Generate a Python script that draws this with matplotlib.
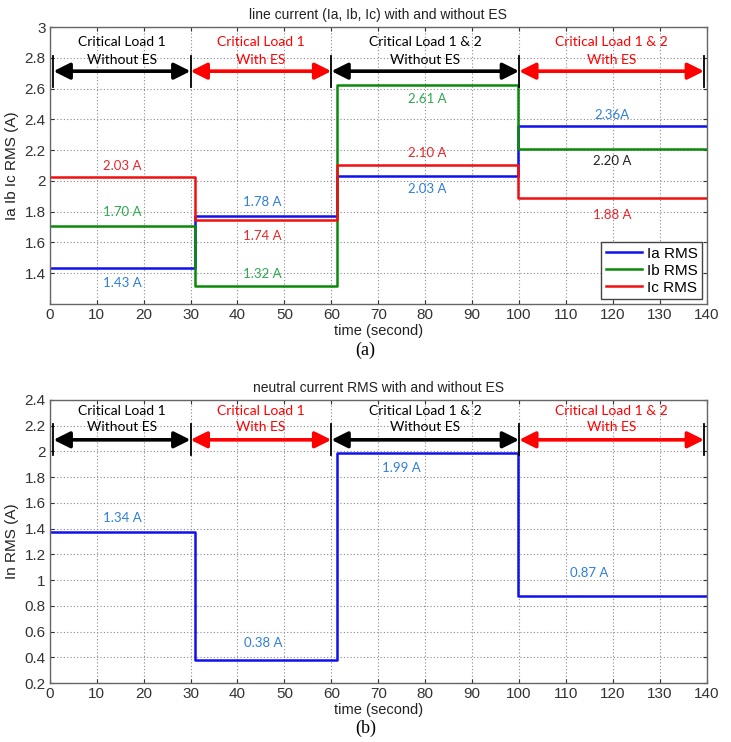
import matplotlib
matplotlib.use('Agg')
import matplotlib.pyplot as plt

# step change instants (s)
t_steps = [0, 31, 61.3, 99.8, 140]

# RMS levels in each of the four periods
ia_rms = [1.435, 1.775, 2.035, 2.355]
ib_rms = [1.71, 1.32, 2.62, 2.205]
ic_rms = [2.025, 1.745, 2.105, 1.89]
in_rms = [1.375, 0.378, 1.985, 0.878]

# period headers
seg_bounds = [0.8, 30, 60, 100, 139.4]
seg_line1 = ['Critical Load 1', 'Critical Load 1', 'Critical Load 1 & 2', 'Critical Load 1 & 2']
seg_line2 = ['Without ES', 'With ES', 'Without ES', 'With ES']
seg_colors = ['black', 'red', 'black', 'red']

# value labels
BLUE_T, GREEN_T, RED_T, BLACK_T = '#2f7fd6', '#2ea84e', '#e8262b', '#222222'
top_lbl_x = [15.4, 15.4, 15.4, 45.2, 45.2, 45.2, 80.4, 80.4, 80.4, 119.8, 119.8, 119.8]
top_lbl_y = [2.095, 1.80, 1.335, 1.86, 1.64, 1.395, 2.535, 2.18, 1.95, 2.425, 2.13, 1.78]
top_lbl_txt = ['2.03 A', '1.70 A', '1.43 A', '1.78 A', '1.74 A', '1.32 A',
               '2.61 A', '2.10 A', '2.03 A', '2.36A', '2.20 A', '1.88 A']
top_lbl_col = [RED_T, GREEN_T, BLUE_T, BLUE_T, RED_T, GREEN_T,
               GREEN_T, RED_T, BLUE_T, BLUE_T, BLACK_T, RED_T]

bot_lbl_x = [15.4, 45.5, 75, 115]
bot_lbl_y = [1.48, 0.51, 1.87, 1.055]
bot_lbl_txt = ['1.34 A', '0.38 A', '1.99 A', '0.87 A']

TICK_FONT = ['Liberation Sans', 'DejaVu Sans']
NOTE_FONT = ['Lato', 'DejaVu Sans']


def steps(levels):
    return levels + [levels[-1]]


def style_axes(ax, ylim, yticks):
    ax.set_xlim(0, 140)
    ax.set_ylim(*ylim)
    ax.set_xticks(range(0, 141, 10))
    ax.set_yticks(yticks)
    ax.set_yticklabels([('%g' % v) for v in yticks])
    ax.grid(True, color='#8a8a8a', linestyle=(0, (1, 2)), linewidth=0.8)
    ax.tick_params(direction='in', length=3, top=True, right=True,
                   labelsize=11, colors='#333333', pad=3)
    for lbl in ax.get_xticklabels() + ax.get_yticklabels():
        lbl.set_family(TICK_FONT)
    for s in ax.spines.values():
        s.set_color('#666666')
        s.set_linewidth(1.0)
    ax.set_xlabel('time (second)', fontsize=10.5, family=TICK_FONT, color='#222222', labelpad=1)


def draw_headers(ax, y_arrow, y_t1, y_t2, bar_half):
    for i in range(4):
        x0, x1 = seg_bounds[i], seg_bounds[i + 1]
        ax.annotate('', xy=(x1, y_arrow), xytext=(x0, y_arrow),
                    arrowprops=dict(arrowstyle='<|-|>,head_length=0.7,head_width=0.35',
                                    color=seg_colors[i], lw=2.6,
                                    shrinkA=0, shrinkB=0, mutation_scale=14))
        xm = (x0 + x1) / 2
        ax.text(xm, y_t1, seg_line1[i], color=seg_colors[i], ha='center', va='center',
                fontsize=10, family=NOTE_FONT)
        ax.text(xm, y_t2, seg_line2[i], color=seg_colors[i], ha='center', va='center',
                fontsize=10, family=NOTE_FONT)
    for xb in seg_bounds:
        ax.plot([xb, xb], [y_arrow - bar_half, y_arrow + bar_half], color='black', lw=1.3)


fig = plt.figure(figsize=(7.31, 7.42), dpi=100)

# (a) line currents
ax1 = fig.add_axes([0.068, 0.5903, 0.899, 0.3733])
ax1.plot(t_steps, steps(ia_rms), drawstyle='steps-post', color='#1010ee', lw=1.8, label='Ia RMS')
ax1.plot(t_steps, steps(ib_rms), drawstyle='steps-post', color='#0a8a0a', lw=1.8, label='Ib RMS')
ax1.plot(t_steps, steps(ic_rms), drawstyle='steps-post', color='#f01010', lw=1.8, label='Ic RMS')
style_axes(ax1, (1.2, 3.0), [1.4, 1.6, 1.8, 2.0, 2.2, 2.4, 2.6, 2.8, 3.0])
ax1.set_ylabel('Ia Ib Ic RMS (A)', fontsize=11, family=TICK_FONT, color='#222222', labelpad=4)
ax1.set_title('line current (Ia, Ib, Ic) with and without ES', fontsize=10,
              family=TICK_FONT, color='#222222', pad=6)
draw_headers(ax1, 2.713, 2.9, 2.785, 0.1)
for x, y, s, c in zip(top_lbl_x, top_lbl_y, top_lbl_txt, top_lbl_col):
    ax1.text(x, y, s, color=c, ha='center', va='center', fontsize=9.5, family=NOTE_FONT)
leg = ax1.legend(loc='lower right', prop={'family': TICK_FONT, 'size': 11},
                 fancybox=False, framealpha=1, edgecolor='#444444', handlelength=2.4,
                 borderpad=0.3, labelspacing=0.2, handletextpad=0.3, borderaxespad=0.3)
leg.get_frame().set_linewidth(1.0)

# (b) neutral current
ax2 = fig.add_axes([0.068, 0.0795, 0.899, 0.3815])
ax2.plot(t_steps, steps(in_rms), drawstyle='steps-post', color='#1010ee', lw=1.8)
style_axes(ax2, (0.2, 2.4), [0.2, 0.4, 0.6, 0.8, 1.0, 1.2, 1.4, 1.6, 1.8, 2.0, 2.2, 2.4])
ax2.set_ylabel('In RMS (A)', fontsize=11, family=TICK_FONT, color='#222222', labelpad=4)
ax2.set_title('neutral current RMS with and without ES', fontsize=10,
              family=TICK_FONT, color='#222222', pad=6)
draw_headers(ax2, 2.09, 2.315, 2.19, 0.12)
for x, y, s in zip(bot_lbl_x, bot_lbl_y, bot_lbl_txt):
    ax2.text(x, y, s, color=BLUE_T, ha='center', va='center', fontsize=9.5, family=NOTE_FONT)

fig.text(0.5, 1 - 350 / 742, '(a)', ha='center', va='center', fontsize=13, family='Liberation Serif')
fig.text(0.5, 1 - 728 / 742, '(b)', ha='center', va='center', fontsize=13, family='Liberation Serif')

fig.savefig('out.png', dpi=100)
